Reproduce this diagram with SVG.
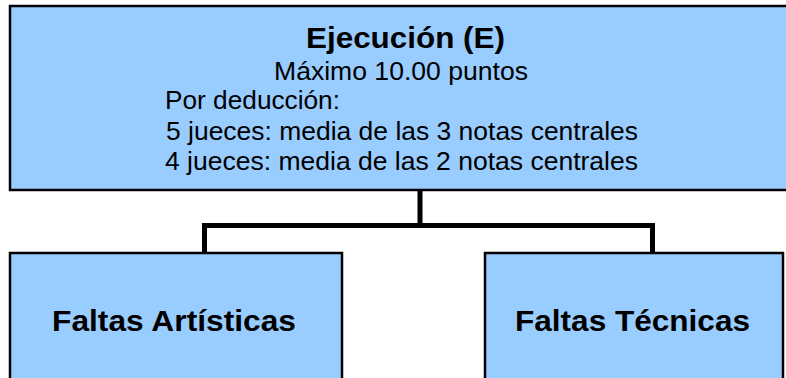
<svg xmlns="http://www.w3.org/2000/svg" width="786" height="378" viewBox="0 0 786 378">
<style>
.box{fill:#99CCFF;stroke:#000;stroke-width:2.5}
.conn{fill:none;stroke:#000;stroke-width:5;stroke-linejoin:miter;stroke-linecap:square}
.t{font-family:"Liberation Sans",Arial,sans-serif;fill:#000}
.b{font-weight:bold}
</style>
<rect width="786" height="378" fill="#fff"/>
<g id="connectors">
<path class="conn" d="M420,191 V225.5 M204.5,253 V225.5 H652.5 V253"/>
</g>
<g id="ejecucion">
<rect class="box" x="10" y="6" width="790" height="184"/>
<text class="t b" x="405.5" y="48" font-size="30" text-anchor="middle" textLength="199" lengthAdjust="spacingAndGlyphs">Ejecución (E)</text>
<text class="t" x="401" y="80" font-size="25" text-anchor="middle" textLength="254" lengthAdjust="spacingAndGlyphs">Máximo 10.00 puntos</text>
<text class="t" x="165" y="109" font-size="25" textLength="175" lengthAdjust="spacingAndGlyphs">Por deducción:</text>
<text class="t" x="166" y="140" font-size="25" textLength="472" lengthAdjust="spacingAndGlyphs">5 jueces: media de las 3 notas centrales</text>
<text class="t" x="165" y="170" font-size="25" textLength="473" lengthAdjust="spacingAndGlyphs">4 jueces: media de las 2 notas centrales</text>
</g>
<g id="faltas-artisticas">
<rect class="box" x="10" y="253" width="332" height="140"/>
<text class="t b" x="174" y="331" font-size="30" text-anchor="middle" textLength="244" lengthAdjust="spacingAndGlyphs">Faltas Artísticas</text>
</g>
<g id="faltas-tecnicas">
<rect class="box" x="485" y="253" width="298" height="140"/>
<text class="t b" x="632.5" y="331" font-size="30" text-anchor="middle" textLength="235" lengthAdjust="spacingAndGlyphs">Faltas Técnicas</text>
</g>
</svg>
